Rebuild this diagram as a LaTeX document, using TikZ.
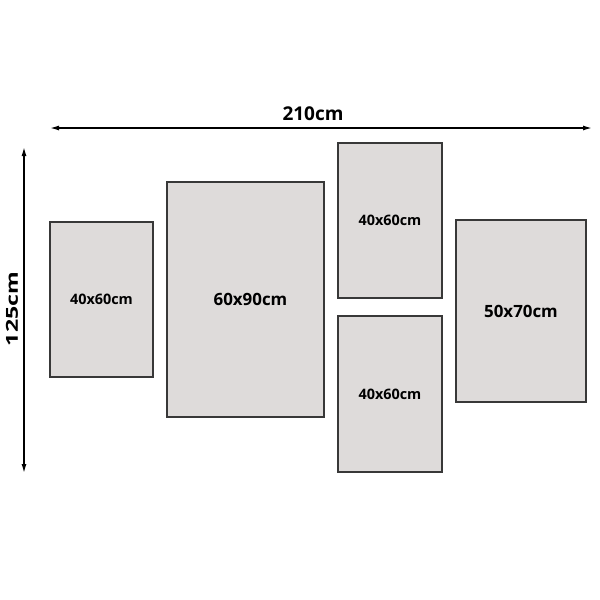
\documentclass[tikz,border=0pt]{standalone}
\usepackage{fontspec}
\setmainfont{Open Sans}
\usetikzlibrary{arrows.meta}
\definecolor{panelfill}{HTML}{DEDBDA}
\definecolor{paneledge}{HTML}{383838}
\tikzset{
  panel/.style={draw=paneledge, fill=panelfill, line width=1.6pt, inner sep=0pt,
    font=\fontsize{14.4}{16}\selectfont\bfseries},
  bigpanel/.style={panel, font=\fontsize{16.9}{19}\selectfont\bfseries},
  dimline/.style={line width=1.4pt, {Latex[length=9pt,width=5pt]}-{Latex[length=9pt,width=5pt]}},
  dimlabel/.style={font=\fontsize{19}{21}\selectfont\bfseries, inner sep=0pt}
}
\begin{document}
\begin{tikzpicture}[x=1pt,y=-1pt]
\useasboundingbox (0,0) rectangle (600,600);
\node[panel, minimum width=103pt, minimum height=155pt] (p1) at (101.5,299.5) {40x60cm};
\node[bigpanel, minimum width=157pt, minimum height=235pt] (p2) at (245.5,299.5) {\hspace*{10pt}60x90cm};
\node[panel, minimum width=104pt, minimum height=155pt] (p3) at (390,220.5) {40x60cm};
\node[panel, minimum width=104pt, minimum height=156pt] (p4) at (390,394) {40x60cm};
\node[bigpanel, minimum width=130pt, minimum height=182pt] (p5) at (521,311) {50x70cm};
\coordinate (hl) at (50,128);
\coordinate (hr) at (592,128);
\coordinate (vt) at (24,147);
\coordinate (vb) at (24,473);
\draw[dimline] (hl) -- (hr);
\draw[dimline] (vt) -- (vb);
\node[dimlabel] (w) at (313,114) {210cm};
\node[dimlabel, rotate=90, font=\fontsize{16.5}{18}\selectfont\bfseries] (h) at (12,309) {\scalebox{1.4}[1]{125cm}};
\end{tikzpicture}
\end{document}
